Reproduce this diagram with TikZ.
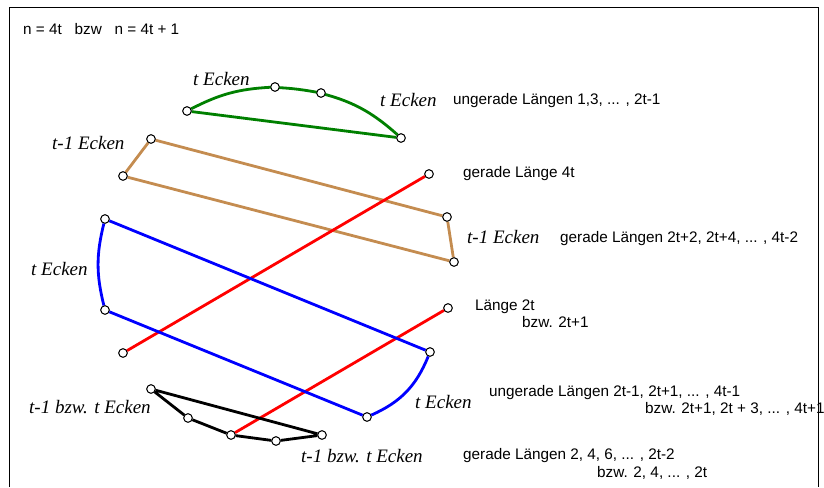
\documentclass[tikz,border=0pt]{standalone}
\usepackage{fontspec}
\setmainfont{Liberation Serif}
\setsansfont{Liberation Sans}
\definecolor{brownline}{RGB}{196,140,80}
\definecolor{greenline}{RGB}{0,128,0}
\begin{document}
\begin{tikzpicture}[x=1pt,y=-1pt,
  vertex/.style={circle,draw,fill=white,line width=0.9pt,minimum size=8.5pt,inner sep=0pt},
  edge/.style={line width=2.8pt},
  ecken/.style={font=\fontsize{19}{19}\selectfont\itshape,anchor=base west,inner sep=0pt},
  info/.style={font=\sffamily\fontsize{15.3}{15.3}\selectfont,anchor=base west,inner sep=0pt}]
\useasboundingbox (0,0) rectangle (824,487);
% outer frame
\draw[line width=1pt] (9,487) -- (9,8) -- (818,8) -- (818,487);

% vertices
\node[vertex] (a) at (187,111) {};
\node[vertex] (b) at (275,87) {};
\node[vertex] (c) at (321,93) {};
\node[vertex] (d) at (401,138) {};
\node[vertex] (e) at (151,139) {};
\node[vertex] (f) at (123,176) {};
\node[vertex] (g) at (447,217) {};
\node[vertex] (h) at (454,262) {};
\node[vertex] (r1) at (123,353) {};
\node[vertex] (r2) at (429,174) {};
\node[vertex] (r4) at (448,308) {};
\node[vertex] (p1) at (105,219) {};
\node[vertex] (p2) at (105,310) {};
\node[vertex] (p3) at (430,352) {};
\node[vertex] (p4) at (367,417) {};
\node[vertex] (k1) at (151,389) {};
\node[vertex] (k2) at (188,418) {};
\node[vertex] (k3) at (231,435) {};
\node[vertex] (k4) at (276,441) {};
\node[vertex] (k5) at (322,435) {};

% green cycle
\draw[edge,greenline] (a) to[bend left=12] (b) to[bend left=4] (c) to[bend left=14] (d);
\draw[edge,greenline] (d) -- (a);
% brown cycle
\draw[edge,brownline] (e) -- (f) -- (h) -- (g) -- (e);
% red chords
\draw[edge,red] (r1) -- (r2);
\draw[edge,red] (k3) -- (r4);
% blue cycle
\draw[edge,blue] (p1) to[bend right=14] (p2);
\draw[edge,blue] (p2) -- (p4);
\draw[edge,blue] (p3) to[bend left=22] (p4);
\draw[edge,blue] (p1) -- (p3);
% black cycle
\draw[edge,black] (k1) -- (k2) -- (k3) -- (k4) -- (k5) -- (k1);

% redraw vertices on top
\foreach \v in {a,b,c,d,e,f,g,h,r1,r2,r4,p1,p2,p3,p4,k1,k2,k3,k4,k5}
  \node[vertex] at (\v) {};

% corner labels
\node[ecken] (la) at (193,85) {t Ecken};
\node[ecken] (lb) at (380,106) {t Ecken};
\node[ecken] (lc) at (52,149) {t-1 Ecken};
\node[ecken] (ld) at (467,243) {t-1 Ecken};
\node[ecken] (le) at (31,275) {t Ecken};
\node[ecken] (lf) at (415,408) {t Ecken};
\node[ecken] (lg) at (29,413) {t-1 bzw. t Ecken};
\node[ecken] (lh) at (301,462) {t-1 bzw. t Ecken};

% length labels
\node[info] (title) at (23,34.5) {n = 4t\ \ \ bzw\ \ \ n = 4t + 1};
\node[info] (i1) at (453,104.5) {ungerade Längen 1,3, ... , 2t-1};
\node[info] (i2) at (463,177.5) {gerade Länge 4t};
\node[info] (i3) at (560,242.5) {gerade Längen 2t+2, 2t+4, ... , 4t-2};
\node[info] (i4) at (475,310.5) {Länge 2t};
\node[info] (i5) at (522,327.5) {bzw. 2t+1};
\node[info] (i6) at (489,396.5) {ungerade Längen 2t-1, 2t+1, ... , 4t-1};
\node[info] (i7) at (645,413.5) {bzw. 2t+1, 2t + 3, ... , 4t+1};
\node[info] (i8) at (463,459.5) {gerade Längen 2, 4, 6, ... , 2t-2};
\node[info] (i9) at (597,477.5) {bzw. 2, 4, ... , 2t};
\end{tikzpicture}
\end{document}
